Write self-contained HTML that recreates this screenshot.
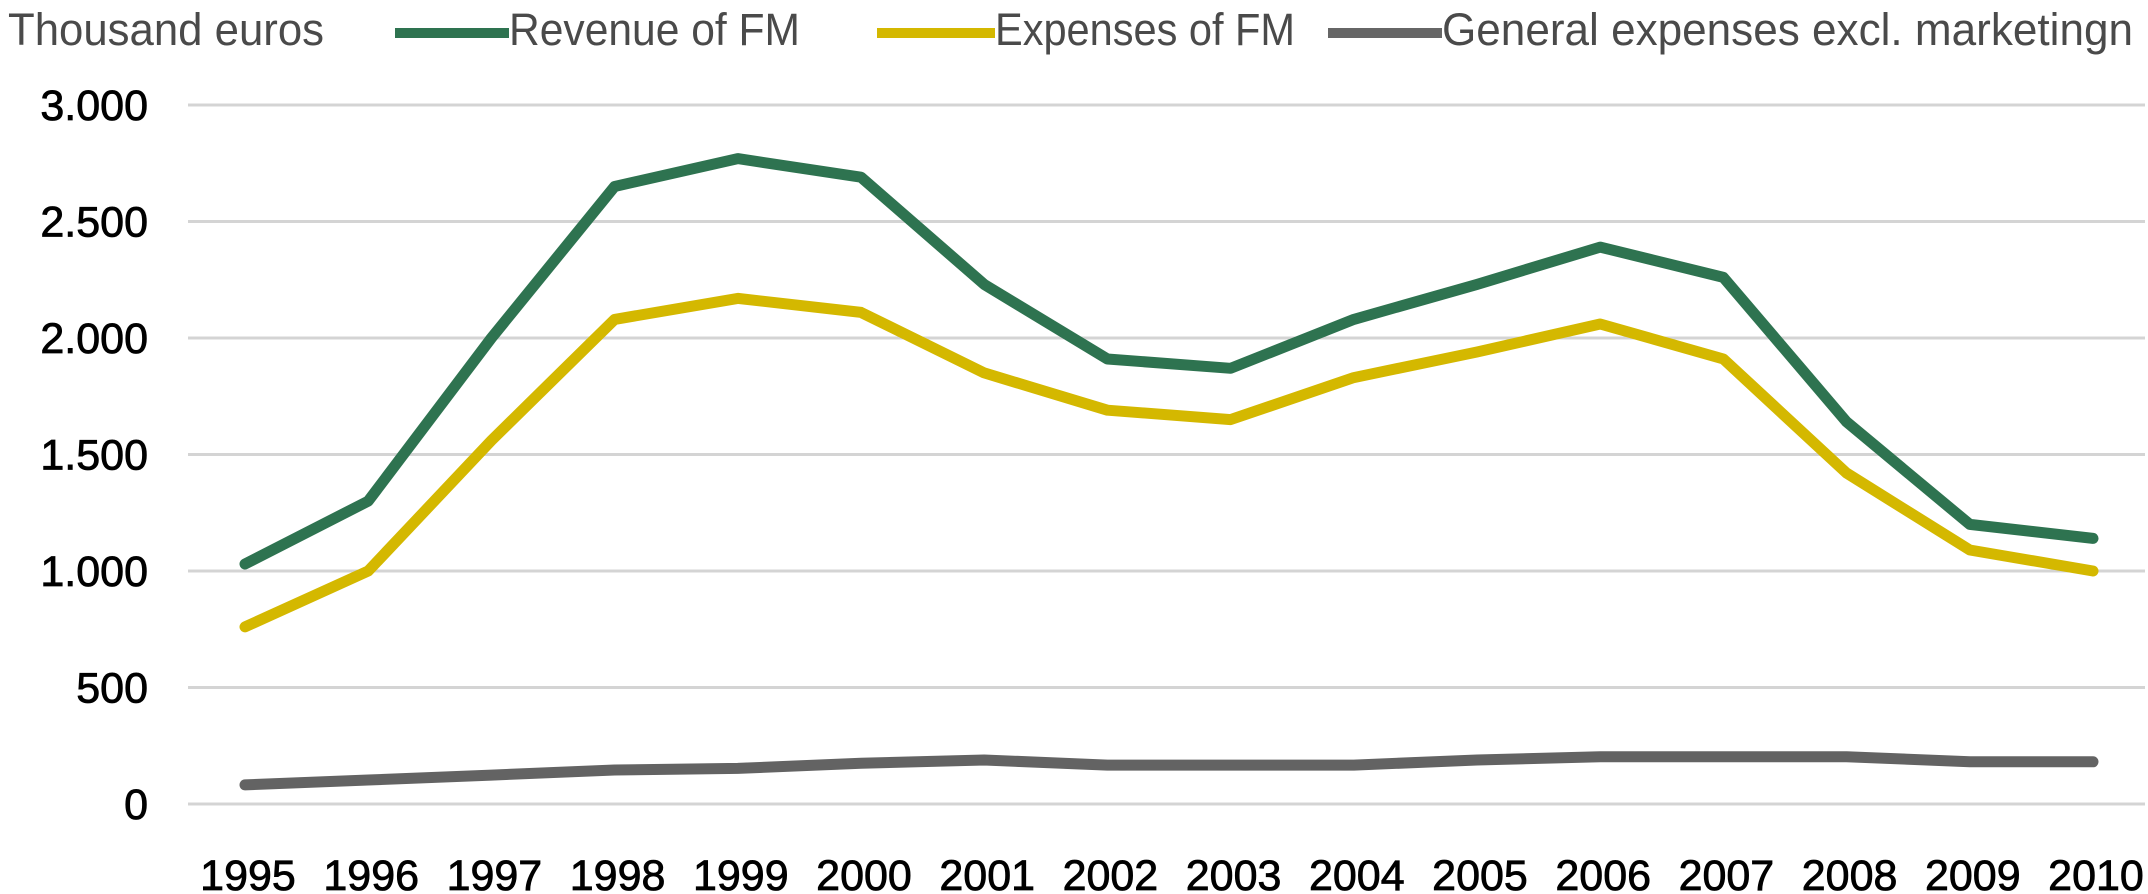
<!DOCTYPE html>
<html><head><meta charset="utf-8"><style>
html,body{margin:0;padding:0;background:#fff;}
svg{display:block;font-family:"Liberation Sans",sans-serif;}
</style></head><body>
<svg id="chart" width="2148" height="894" viewBox="0 0 2148 894" xmlns="http://www.w3.org/2000/svg">
<g id="legend">
<text x="8" y="45" font-size="45" fill="#4a4a4a" textLength="316" lengthAdjust="spacingAndGlyphs">Thousand euros</text>
<g><line x1="395" y1="33" x2="509" y2="33" stroke="#2e7350" stroke-width="10"/><text x="509" y="45" font-size="45" fill="#4a4a4a" textLength="291" lengthAdjust="spacingAndGlyphs">Revenue of FM</text></g>
<g><line x1="877" y1="33" x2="995" y2="33" stroke="#d4b800" stroke-width="10"/><text x="995" y="45" font-size="45" fill="#4a4a4a" textLength="300" lengthAdjust="spacingAndGlyphs">Expenses of FM</text></g>
<g><line x1="1328" y1="33" x2="1442" y2="33" stroke="#666" stroke-width="10"/><text x="1442" y="45" font-size="45" fill="#4a4a4a" textLength="691" lengthAdjust="spacingAndGlyphs">General expenses excl. marketingn</text></g>
</g>
<g id="grid"></g>
<g id="yticks"></g>
<g id="xticks"></g>
<g id="series"></g>
</svg>
<script>
const years = ["1995","1996","1997","1998","1999","2000","2001","2002","2003","2004","2005","2006","2007","2008","2009","2010"];
const revenue = [1030,1300,2000,2650,2770,2690,2230,1910,1870,2080,2230,2390,2260,1640,1200,1140];
const expenses = [760,1000,1560,2080,2170,2110,1850,1690,1650,1830,1940,2060,1910,1420,1090,1000];
const general = [82,103,124,146,153,175,189,167,167,167,189,203,203,203,181,181];
const yTicks = [0,500,1000,1500,2000,2500,3000];
const yTickLabels = ["0","500","1.000","1.500","2.000","2.500","3.000"];

const NS = "http://www.w3.org/2000/svg";
const x0 = 245, x1 = 2093, yBase = 804, yTop = 105, yMax = 3000;
function xPos(i){ return x0 + i*(x1-x0)/(years.length-1); }
function yPos(v){ return yBase - v*(yBase-yTop)/yMax; }
function mk(tag, attrs, parent){ const e=document.createElementNS(NS,tag); for(const k in attrs) e.setAttribute(k,attrs[k]); parent.appendChild(e); return e; }

const grid = document.getElementById('grid');
const yt = document.getElementById('yticks');
yTicks.forEach((v,i)=>{
  const l = mk('line',{x1:188,x2:2145,y1:yPos(v),y2:yPos(v),stroke:'#d4d4d4','stroke-width':3},grid);
  
  
  const t = mk('text',{x:148,y:yPos(v)+15,'font-size':43,'text-anchor':'end',fill:'#000',stroke:'#000','stroke-width':0.8},yt);
  
  
  t.textContent = yTickLabels[i];
});
const xt = document.getElementById('xticks');
years.forEach((y,i)=>{
  const t = mk('text',{x:xPos(i)+3,y:890,'font-size':43,'text-anchor':'middle',fill:'#000',stroke:'#000','stroke-width':0.8},xt);
  
  
  t.textContent = y;
});
const sg = document.getElementById('series');
function drawLine(vals,color,name){
  const pts = vals.map((v,i)=>xPos(i).toFixed(1)+','+yPos(v).toFixed(1)).join(' ');
  const p = mk('polyline',{points:pts,fill:'none',stroke:color,'stroke-width':11,'stroke-linejoin':'round','stroke-linecap':'round'},sg);
  
  
}
drawLine(general,'#636363','general-expenses-line');
drawLine(expenses,'#d4b800','expenses-line');
drawLine(revenue,'#2e7350','revenue-line');
</script>
</body></html>
